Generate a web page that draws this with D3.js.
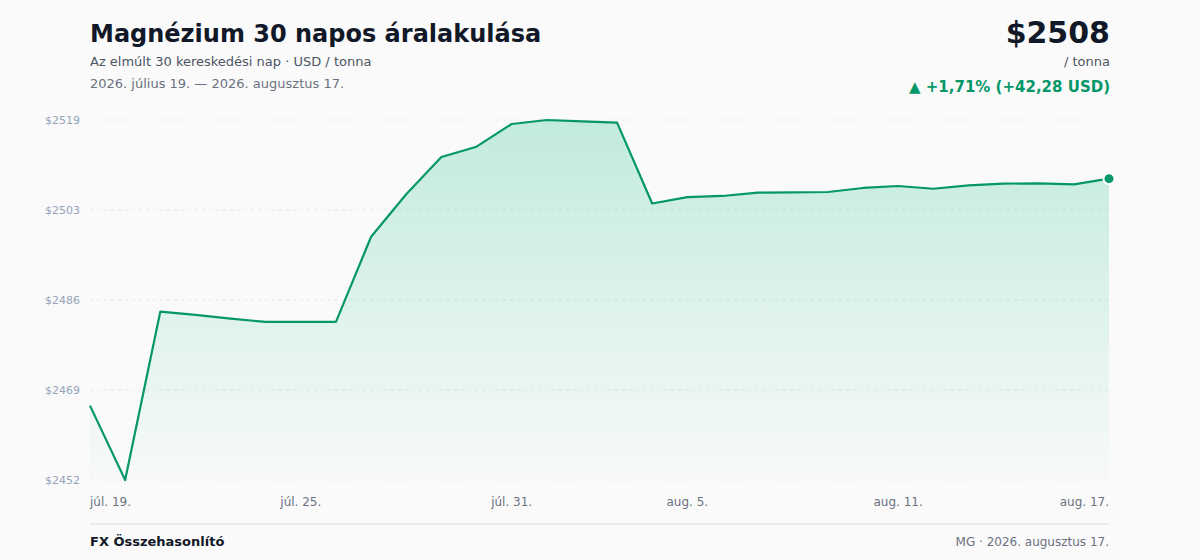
<!DOCTYPE html>
<html lang="hu">
<head>
<meta charset="utf-8">
<script src="https://cdn.jsdelivr.net/npm/d3@7"></script>
<style>
  html, body { margin: 0; padding: 0; background: #fafafa; }
  svg { display: block; font-family: "DejaVu Sans", sans-serif; }
</style>
</head>
<body>
<svg id="chart" width="1200" height="560"></svg>
<script>
// napi zárások, júl. 19. – aug. 17.
var days = d3.range(30).map(function(i) { return new Date(2026, 6, 19 + i) })
var prices = [
    2466.10, 2452.25, 2483.60, 2483.00, 2482.30, 2481.70, 2481.70, 2481.70,
    2497.56, 2505.46, 2512.41, 2514.33, 2518.56, 2519.30, 2519.06, 2518.80,
    2503.75, 2504.94, 2505.15, 2505.76, 2505.83, 2505.89, 2506.64, 2507.01,
    2506.50, 2507.14, 2507.44, 2507.51, 2507.32, 2508.38
]
var tickDays = [0, 6, 12, 17, 23, 29]
var monthShort = ["jan.", "febr.", "márc.", "ápr.", "máj.", "jún.", "júl.", "aug.", "szept.", "okt.", "nov.", "dec."]

var width = 1200
var height = 560
var margin = { top: 120, right: 91, bottom: 80, left: 90 }
var green = "#059669"

var svg = d3.select("#chart")

var x = d3.scaleTime()
    .domain(d3.extent(days))
    .range([margin.left, width - margin.right])

var y = d3.scaleLinear()
    .domain(d3.extent(prices))
    .range([height - margin.bottom, margin.top])

var data = days.map(function(d, i) { return { date: d, value: prices[i] } })

// fejléc
svg.append("text")
    .attr("x", 90).attr("y", 42)
    .attr("font-size", 24).attr("font-weight", "bold").attr("fill", "#111827")
    .text("Magnézium 30 napos áralakulása")
svg.append("text")
    .attr("x", 90).attr("y", 66)
    .attr("font-size", 13).attr("fill", "#4b5563")
    .text("Az elmúlt 30 kereskedési nap · USD / tonna")
svg.append("text")
    .attr("x", 90).attr("y", 88)
    .attr("font-size", 13).attr("fill", "#6b7280")
    .text("2026. július 19. — 2026. augusztus 17.")

var first = prices[0]
var last = prices[prices.length - 1]
var change = last - first
var pct = change / first * 100
var hu = function(v) { return d3.format(".2f")(v).replace(".", ",") }

svg.append("text")
    .attr("x", 1110).attr("y", 43).attr("text-anchor", "end")
    .attr("font-size", 30).attr("font-weight", "bold").attr("fill", "#111827")
    .text("$" + Math.round(last))
svg.append("text")
    .attr("x", 1110).attr("y", 66).attr("text-anchor", "end")
    .attr("font-size", 13).attr("fill", "#4b5563")
    .text("/ tonna")
svg.append("text")
    .attr("x", 1110).attr("y", 92).attr("text-anchor", "end")
    .attr("font-size", 15).attr("font-weight", "bold").attr("fill", green)
    .text((change >= 0 ? "▲ +" : "▼ ") + hu(pct) + "% (" + (change >= 0 ? "+" : "") + hu(change) + " USD)")

// rács + y tengely
var yTicks = d3.range(5).map(function(i) {
    var dom = y.domain()
    return dom[0] + (dom[1] - dom[0]) * i / 4
})

var grid = svg.append("g")
grid.selectAll("line")
    .data(yTicks)
    .enter()
    .append("line")
    .attr("x1", margin.left).attr("x2", width - margin.right)
    .attr("y1", function(d) { return y(d) }).attr("y2", function(d) { return y(d) })
    .attr("stroke", "#e5e7eb")
    .attr("stroke-dasharray", "3,4")

grid.selectAll("text")
    .data(yTicks)
    .enter()
    .append("text")
    .attr("x", 80)
    .attr("y", function(d) { return y(d) })
    .attr("dy", "0.35em")
    .attr("text-anchor", "end")
    .attr("font-size", 11)
    .attr("fill", "#94a3b8")
    .text(function(d) { return "$" + Math.round(d) })

// terület színátmenettel
var grad = svg.append("defs").append("linearGradient")
    .attr("id", "fillGrad")
    .attr("x1", 0).attr("y1", 0).attr("x2", 0).attr("y2", 1)
grad.append("stop").attr("offset", "0%").attr("stop-color", "#10b981").attr("stop-opacity", 0.24)
grad.append("stop").attr("offset", "100%").attr("stop-color", "#10b981").attr("stop-opacity", 0.01)

var area = d3.area()
    .x(function(d) { return x(d.date) })
    .y0(height - margin.bottom)
    .y1(function(d) { return y(d.value) })

var line = d3.line()
    .x(function(d) { return x(d.date) })
    .y(function(d) { return y(d.value) })

svg.append("path")
    .datum(data)
    .attr("d", area)
    .attr("fill", "url(#fillGrad)")

svg.append("path")
    .datum(data)
    .attr("d", line)
    .attr("fill", "none")
    .attr("stroke", green)
    .attr("stroke-width", 2.2)
    .attr("stroke-linejoin", "round")

svg.append("circle")
    .attr("cx", x(days[days.length - 1]))
    .attr("cy", y(last))
    .attr("r", 5.5)
    .attr("fill", green)
    .attr("stroke", "#fff")
    .attr("stroke-width", 2)

// x tengely feliratok
svg.append("g")
    .selectAll("text")
    .data(tickDays)
    .enter()
    .append("text")
    .attr("x", function(i) { return x(days[i]) })
    .attr("y", 506)
    .attr("text-anchor", function(i, k) {
        return k === 0 ? "start" : (k === tickDays.length - 1 ? "end" : "middle")
    })
    .attr("font-size", 12)
    .attr("fill", "#6b7280")
    .text(function(i) { return monthShort[days[i].getMonth()] + " " + days[i].getDate() + "." })

// lábléc
svg.append("line")
    .attr("x1", 90).attr("x2", 1109)
    .attr("y1", 524).attr("y2", 524)
    .attr("stroke", "#e5e7eb")
    .attr("stroke-width", 1.5)
svg.append("text")
    .attr("x", 90).attr("y", 546)
    .attr("font-size", 13).attr("font-weight", "bold").attr("fill", "#111827")
    .text("FX Összehasonlító")
svg.append("text")
    .attr("x", 1109).attr("y", 546).attr("text-anchor", "end")
    .attr("font-size", 12).attr("fill", "#6b7280")
    .text("MG · 2026. augusztus 17.")
</script>
</body>
</html>
